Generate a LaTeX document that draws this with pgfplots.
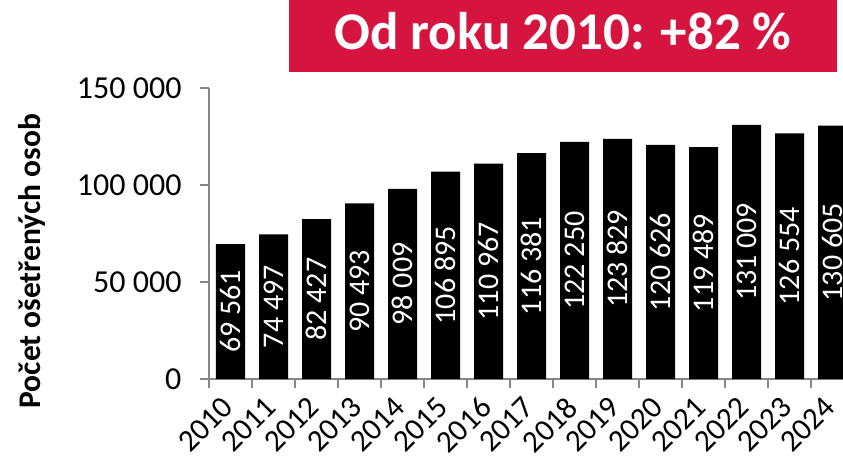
\documentclass[border=0pt]{standalone}
\usepackage{fontspec}
\setmainfont{Carlito}
\usepackage{pgfplots}
\pgfplotsset{compat=1.18}
\usepackage{pgfplotstable}
\definecolor{titlered}{HTML}{D51540}
\definecolor{axgray}{HTML}{868686}
\pgfplotstableread{
x y
0 69561
1 74497
2 82427
3 90493
4 98009
5 106895
6 110967
7 116381
8 122250
9 123829
10 120626
11 119489
12 131009
13 126554
14 130605
}\data

\begin{document}
\begin{tikzpicture}
\fill[titlered] (289pt,384pt) rectangle (837pt,456pt);
\node[anchor=base, text=white, font=\fontsize{53}{63}\selectfont\bfseries] at (563pt,406pt) {Od roku 2010: +82 \%};
\begin{axis}[
  at={(209pt,77pt)}, anchor=south west,
  scale only axis, width=645pt, height=291pt,
  xmin=-0.5, xmax=14.5, ymin=0, ymax=150000,
  axis x line*=bottom, axis y line*=left,
  axis line style={axgray, line width=1.2pt, -},
  tick style={axgray, line width=1.2pt},
  tick align=outside, major tick length=9pt,
  xtick={-0.5,0.5,...,14.5},
  xticklabels={2010,2011,2012,2013,2014,2015,2016,2017,2018,2019,2020,2021,2022,2023,2024,{}},
  x tick label style={xshift=21.5pt, yshift=-12pt, rotate=45, anchor=east, font=\fontsize{31}{36}\selectfont},
  ytick={0,50000,100000,150000},
  scaled y ticks=false,
  yticklabel={\pgfmathprintnumber[fixed, precision=0, 1000 sep={\ }, assume math mode=true]{\tick}},
  y tick label style={xshift=-15pt, font=\fontsize{32}{38}\selectfont},
  ylabel={Počet ošetřených osob},
  ylabel style={at={(axis description cs:-0.274,0.405)}, anchor=center, font=\fontsize{31.5}{38}\selectfont\bfseries},
  clip=false,
]
\addplot[ybar, bar width=29pt, fill=black, draw=none] table[x=x, y=y] {\data};
\addplot[draw=none, mark=none, point meta=explicit,
  nodes near coords={\pgfmathprintnumber[fixed, precision=0, 1000 sep={\ }, assume math mode=true]{\pgfplotspointmeta}},
  every node near coord/.append style={rotate=90, anchor=center, text=white, font=\fontsize{30}{36}\selectfont}]
  table[x=x, y expr=\thisrow{y}/2, meta=y] {\data};
\end{axis}
\pgfresetboundingbox
\useasboundingbox (0,0) rectangle (843pt,456pt);
\end{tikzpicture}
\end{document}
